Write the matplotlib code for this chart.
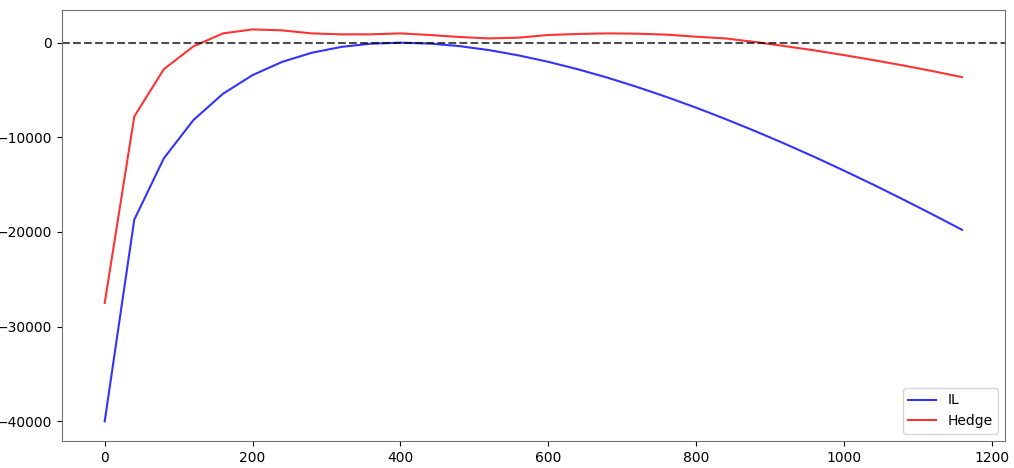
import matplotlib
matplotlib.use('Agg')
import matplotlib.pyplot as plt

# price grid
price = list(range(0, 1200, 40))

# IL curve
il = [-40000, -18700, -12220, -8180, -5400, -3430, -2030, -1070, -450, -105,
      0, -95, -365, -785, -1345, -2020, -2805, -3690, -4670, -5730,
      -6860, -8070, -9340, -10670, -12060, -13510, -15000, -16550, -18140, -19770]

# hedged position
hedge = [-27500, -7800, -2800, -390, 980, 1400, 1300, 980, 880, 880,
         980, 810, 600, 450, 530, 810, 920, 980, 950, 850,
         630, 450, 70, -360, -810, -1310, -1840, -2400, -3000, -3640]

fig, ax = plt.subplots(figsize=(10.14, 4.68), dpi=100)
fig.subplots_adjust(left=0.061, right=0.991, top=0.979, bottom=0.058)

ax.plot(price, il, color='b', alpha=0.8, lw=1.5, label='IL')
ax.plot(price, hedge, color='r', alpha=0.8, lw=1.5, label='Hedge')
ax.axhline(0, color='k', ls='--', alpha=0.7, lw=1.5)

for s in ax.spines.values():
    s.set_color('0.45')

ax.legend(loc='lower right')
plt.savefig('out.png')
